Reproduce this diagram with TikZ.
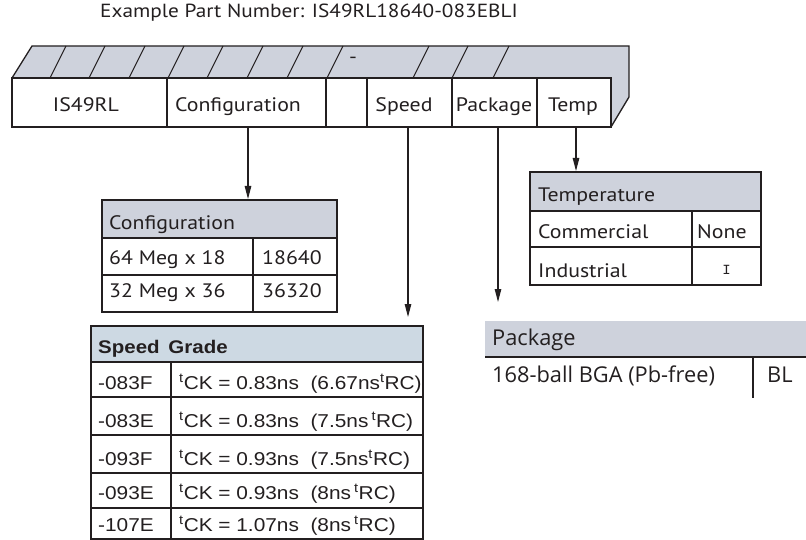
\documentclass[tikz,border=0pt]{standalone}
\usepackage{fontspec}
\setmainfont[FakeStretch=1.12]{PT Sans}
\newfontfamily\hel[FakeStretch=1.12]{Liberation Sans}
\newfontfamily\fru{Open Sans}
\newfontfamily\mono{Liberation Mono}
\usetikzlibrary{arrows.meta}
\definecolor{ink}{RGB}{35,31,32}
\definecolor{bandgray}{RGB}{206,210,220}
\definecolor{speedblue}{RGB}{205,217,227}
\newcommand\Rect[6]{\node[#6, minimum width={#3-#1}, minimum height={#4-#2}] (#5) at ({(#1+#3)/2},{(#2+#4)/2}) {};}
\begin{document}
\begin{tikzpicture}[x=1pt,y=-1pt,
  cell/.style={draw=ink, line width=1.3pt, fill=white, inner sep=0pt, outer sep=0pt},
  hcell/.style={cell, fill=bandgray},
  scell/.style={draw=ink, line width=1.9pt, fill=white, inner sep=0pt, outer sep=0pt},
  shcell/.style={scell, fill=speedblue},
  txt/.style={text=ink, inner sep=0pt, anchor=base west, font=\fontsize{19.5}{22}\selectfont},
  ctxt/.style={txt, anchor=base},
  stxt/.style={txt, font=\hel\fontsize{18.6}{21}\selectfont},
  ptxt/.style={txt, font=\fru\fontsize{21.8}{24}\selectfont},
  arr/.style={draw=ink, line width=1.1pt, -{Triangle[length=13pt,width=6.5pt]}}]
\useasboundingbox (0,0) rectangle (806,540);
% title
\node[ctxt, font=\fontsize{19}{21}\selectfont] (title) at (309,18) {Example Part Number: IS49RL18640-083EBLI};
% band
\fill[bandgray] (12,78) -- (32,46) -- (629,46) -- (629,97) -- (611,127) -- (611,78) -- cycle;
\draw[ink, line width=1.3pt, line join=miter] (12,78) -- (32,46) -- (629,46) -- (629,97) -- (611,127);
\foreach \b in {50,89,129,168,207,247,287,327,413,452,493}
  \draw[ink, line width=1.1pt] (\b,78) -- (\b+16,46);
\node[ctxt] (dash) at (353,64) {-};
% front boxes
\Rect{12}{78}{167}{127}{b1}{cell}
\Rect{167}{78}{326}{127}{b2}{cell}
\Rect{326}{78}{367}{127}{b3}{cell}
\Rect{367}{78}{452}{127}{b4}{cell}
\Rect{452}{78}{537}{127}{b5}{cell}
\Rect{537}{78}{611}{127}{b6}{cell}
\node[ctxt] (t1) at (86,112) {IS49RL};
\node[ctxt] (t2) at (238,112) {Configuration};
\node[ctxt] (t4) at (404,112) {Speed};
\node[ctxt] (t5) at (494,112) {Package};
\node[ctxt] (t6) at (573,112) {Temp};
% configuration table
\Rect{102}{200}{337}{238}{cfgh}{hcell}
\Rect{102}{238}{253}{275}{cfga}{cell}
\Rect{253}{238}{337}{275}{cfgb}{cell}
\Rect{102}{275}{253}{312}{cfgc}{cell}
\Rect{253}{275}{337}{312}{cfgd}{cell}
\node[txt] (cfght) at (109,230) {Configuration};
\node[txt] (cfgat) at (109,265) {64 Meg x 18};
\node[txt] (cfgbt) at (262,265) {18640};
\node[txt] (cfgct) at (109,298) {32 Meg x 36};
\node[txt] (cfgdt) at (262,298) {36320};
% temperature table
\Rect{530}{172}{761}{211}{tmph}{hcell}
\Rect{530}{211}{692}{247}{tmpa}{cell}
\Rect{692}{211}{761}{247}{tmpb}{cell}
\Rect{530}{247}{692}{285}{tmpc}{cell}
\Rect{692}{247}{761}{285}{tmpd}{cell}
\node[txt] (tmpht) at (538,202) {Temperature};
\node[txt] (tmpat) at (538,239) {Commercial};
\node[txt] (tmpbt) at (697,239) {None};
\node[txt] (tmpct) at (538,277) {Industrial};
\node[ctxt, font=\mono\fontsize{14}{16}\selectfont] (tmpdt) at (726.5,274) {I};
% speed grade table
\Rect{91}{326}{423}{362}{sph}{shcell}
\node[stxt, font=\hel\bfseries\fontsize{18.3}{21}\selectfont] (spht) at (98,353) {Speed\, Grade};
\foreach \i/\ya/\yb in {1/362/397, 2/397/435, 3/435/473, 4/473/508, 5/508/539} {
  \Rect{91}{\ya}{171}{\yb}{spa\i}{scell}
  \Rect{171}{\ya}{423}{\yb}{spb\i}{scell}
}
\node[stxt] (spa1t) at (98,389) {-083F};
\node[stxt] (spb1t) at (179,389) {\textsuperscript{t}CK = 0.83ns\ \ (6.67ns\textsuperscript{t}RC)};
\node[stxt] (spa2t) at (98,427) {-083E};
\node[stxt] (spb2t) at (179,427) {\textsuperscript{t}CK = 0.83ns\ \ (7.5ns\,\textsuperscript{t}RC)};
\node[stxt] (spa3t) at (98,465) {-093F};
\node[stxt] (spb3t) at (179,465) {\textsuperscript{t}CK = 0.93ns\ \ (7.5ns\textsuperscript{t}RC)};
\node[stxt] (spa4t) at (98,499) {-093E};
\node[stxt] (spb4t) at (179,499) {\textsuperscript{t}CK = 0.93ns\ \ (8ns\,\textsuperscript{t}RC)};
\node[stxt] (spa5t) at (98,531) {-107E};
\node[stxt] (spb5t) at (179,531) {\textsuperscript{t}CK = 1.07ns\ \ (8ns\,\textsuperscript{t}RC)};
% package table
\fill[bandgray] (485,321) rectangle (806,357);
\coordinate (pkl) at (485,357);
\coordinate (pkr) at (806,357);
\coordinate (pkdt) at (753,357);
\coordinate (pkdb) at (753,398);
\draw[ink, line width=1.1pt] (pkl) -- (pkr);
\draw[ink, line width=1.1pt] (pkdt) -- (pkdb);
\node[ptxt] (pkht) at (492,345) {Package};
\node[ptxt] (pkat) at (492,382) {168-ball BGA (Pb-free)};
\node[ptxt] (pkbt) at (767,382) {BL};
% arrows
\coordinate (cfgend) at (248,199);
\coordinate (spend) at (408,317);
\coordinate (pkend) at (498,302);
\coordinate (tmpend) at (576,171);
\draw[arr] (b2.south -| cfgend) -- (cfgend);
\draw[arr] (b4.south -| spend) -- (spend);
\draw[arr] (b5.south -| pkend) -- (pkend);
\draw[arr] (b6.south -| tmpend) -- (tmpend);
\end{tikzpicture}
\end{document}
